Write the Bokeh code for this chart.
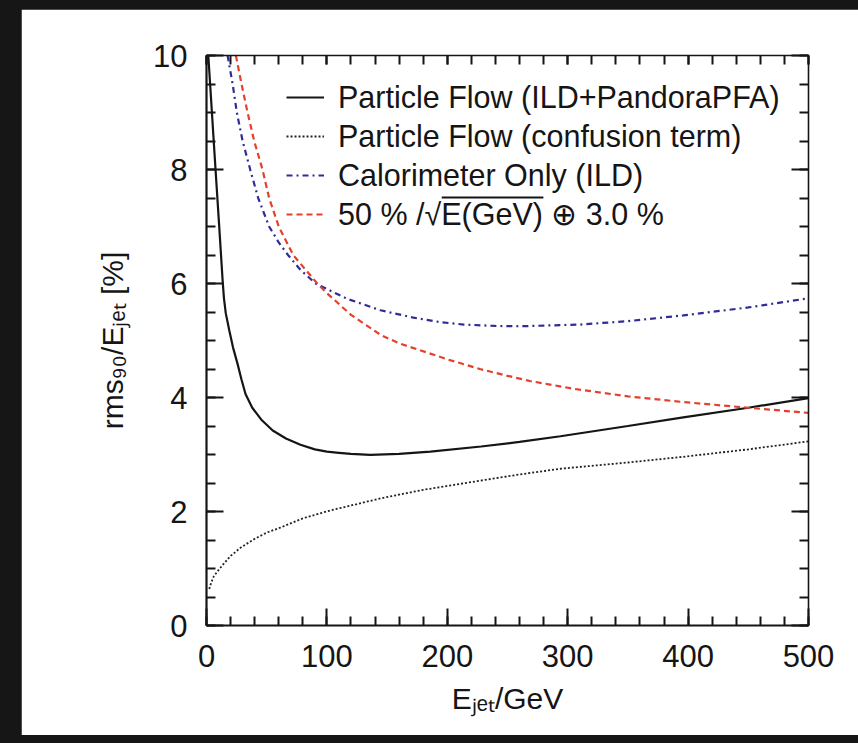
from bokeh.plotting import figure
from bokeh.models import (Range1d, SingleIntervalTicker, LinearAxis, Legend, LegendItem,
                          CustomLabelingPolicy)
from bokeh.embed import file_html
from bokeh.resources import INLINE

# ---- data ----
pfa_E = [1.5, 4.5, 7.5, 10.5, 13.4, 14.5, 16, 18.9, 22, 25.8, 29, 32.4, 38, 46, 55, 66, 78,
         90, 100, 110, 120, 136, 160, 186, 228, 260, 294, 350, 396, 450, 500]
pfa_res = [10.0, 9.0, 8.0, 7.02, 6.05, 5.74, 5.48, 5.18, 4.88, 4.59, 4.32, 4.06, 3.82, 3.6,
           3.42, 3.28, 3.17, 3.09, 3.05, 3.03, 3.01, 2.995, 3.01, 3.05, 3.14, 3.22, 3.32,
           3.5, 3.65, 3.82, 3.99]

conf_E = [2.3, 3.7, 6, 9.5, 15, 20, 28.6, 40, 50, 61.7, 80, 103, 125, 144.5, 180, 227,
          260, 294, 350, 396, 450, 500]
conf_res = [0.64, 0.74, 0.86, 0.96, 1.1, 1.22, 1.37, 1.52, 1.63, 1.72, 1.88, 2.02, 2.13,
            2.23, 2.38, 2.54, 2.65, 2.75, 2.86, 2.96, 3.09, 3.23]

calo_E = [17.5, 21.7, 25.2, 30, 36.3, 42.9, 52, 60, 67.7, 78, 90.6, 117, 144.5, 172, 195,
          213.7, 240, 260.8, 294, 310.6, 350, 396, 450, 500]
calo_res = [10.0, 9.5, 9.0, 8.5, 8.0, 7.5, 7.0, 6.72, 6.5, 6.24, 6.0, 5.73, 5.53, 5.40,
            5.32, 5.28, 5.255, 5.25, 5.27, 5.28, 5.34, 5.44, 5.58, 5.74]

param_E = [24.4, 29.1, 34.1, 39.6, 46.5, 52, 60, 72, 92, 100, 120, 144.5, 160, 185.8, 200,
           227, 250, 268.6, 305.9, 350, 396, 450, 500]
param_res = [10.0, 9.5, 9.0, 8.5, 8.0, 7.5, 7.0, 6.5, 6.0, 5.83, 5.45, 5.1, 4.95, 4.77,
             4.67, 4.5, 4.38, 4.29, 4.15, 4.02, 3.92, 3.82, 3.73]

labels = ["Particle Flow (ILD+PandoraPFA)",
          "Particle Flow (confusion term)",
          "Calorimeter Only (ILD)",
          "50 % /\u221aE(GeV) \u2295 3.0 %"]

x_title = "E\u2c7c\u2091\u209c/GeV"
y_title = "rms\u2089\u2080/E\u2c7c\u2091\u209c [%]"

# ---- layout ----
FONT = "Liberation Sans"
PAD_L, PAD_T, PAD_B = 21, 9, 8          # dark screenshot border around the white sheet
W, H = 858, 743
FW, FH = 602, 570
ML, MT = 206 - PAD_L, 55 - PAD_T
MR, MB = W - ML - FW, H - MT - FH
XMAX, YMAX = 500, 10
INK = "#151515"

def dx(cx):  # canvas px -> data x
    return (cx - ML) / FW * XMAX
def dy(cy):  # canvas px -> data y
    return (MT + FH - cy) / FH * YMAX

p = figure(width=W, height=H, output_backend="svg", toolbar_location=None,
           x_range=Range1d(0, XMAX), y_range=Range1d(0, YMAX),
           min_border_left=ML, min_border_top=MT, min_border_right=MR,
           min_border_bottom=MB, x_axis_label=x_title, y_axis_label=y_title)
p.styles = {"background-color": "#161616",
            "padding": f"{PAD_T}px 0px {PAD_B}px {PAD_L}px"}
p.grid.visible = False
p.outline_line_color = None
p.background_fill_color = "white"
p.border_fill_color = "white"

hide = CustomLabelingPolicy(code="const all = [...indices]; for (const i of all) indices.unset(i); return indices")

def style_axis(ax, ticker, labels_on=True, major_len=17, minor_len=9, lw=2.2):
    ax.ticker = ticker
    ax.axis_line_width = lw
    ax.axis_line_color = INK
    ax.major_tick_in = major_len
    ax.major_tick_out = 0
    ax.minor_tick_in = minor_len
    ax.minor_tick_out = 0
    ax.major_tick_line_width = 2
    ax.minor_tick_line_width = 2
    ax.major_tick_line_color = INK
    ax.minor_tick_line_color = INK
    ax.major_label_text_font = FONT
    ax.major_label_text_font_size = "31px"
    ax.major_label_text_color = INK
    ax.axis_label_text_font = FONT
    ax.axis_label_text_font_size = "30px"
    ax.axis_label_text_font_style = "normal"
    ax.axis_label_text_color = INK
    if not labels_on:
        ax.major_label_policy = hide

style_axis(p.xaxis[0], SingleIntervalTicker(interval=100, num_minor_ticks=5))
style_axis(p.yaxis[0], SingleIntervalTicker(interval=2, num_minor_ticks=4))
p.xaxis[0].major_label_standoff = 19
p.yaxis[0].major_label_standoff = 19
p.xaxis[0].axis_label_standoff = 12
p.yaxis[0].axis_label_standoff = 21

top = LinearAxis()
style_axis(top, SingleIntervalTicker(interval=100, num_minor_ticks=5), labels_on=False,
           major_len=9, minor_len=9, lw=1.6)
p.add_layout(top, "above")
right = LinearAxis()
style_axis(right, SingleIntervalTicker(interval=2, num_minor_ticks=4), labels_on=False,
           lw=1.6)
p.add_layout(right, "right")

# ---- curves ----
r1 = p.line(pfa_E, pfa_res, line_color=INK, line_width=2.2)
r2 = p.line(conf_E, conf_res, line_color="#222222", line_width=1.8, line_dash="2 2")
r3 = p.line(calo_E, calo_res, line_color="#2f2c96", line_width=2.2, line_dash="6 4 2 4")
r4 = p.line(param_E, param_res, line_color="#e4402b", line_width=2.2, line_dash="6 4")

# ---- legend ----
LEG_FS = 30.5
legend = Legend(items=[LegendItem(label=l, renderers=[r]) for l, r in zip(labels, [r1, r2, r3, r4])],
                location=(80, 393), border_line_color=None, background_fill_alpha=0,
                padding=0, margin=0, spacing=3, glyph_width=38, glyph_height=36,
                label_height=36, label_standoff=14, label_text_font=FONT,
                label_text_font_size=f"{LEG_FS}px", label_text_color=INK)
p.add_layout(legend, "center")

# overline of the square root in the last legend entry
text_start = ML + 80 + 38 + 14
ol_x0 = text_start + 3.384 * LEG_FS
ol_x1 = text_start + 6.718 * LEG_FS
ol_y = 197 - PAD_T
p.segment(x0=[dx(ol_x0)], y0=[dy(ol_y)], x1=[dx(ol_x1)], y1=[dy(ol_y)],
          line_color=INK, line_width=2)

open("out.html", "w").write(file_html(p, INLINE))
